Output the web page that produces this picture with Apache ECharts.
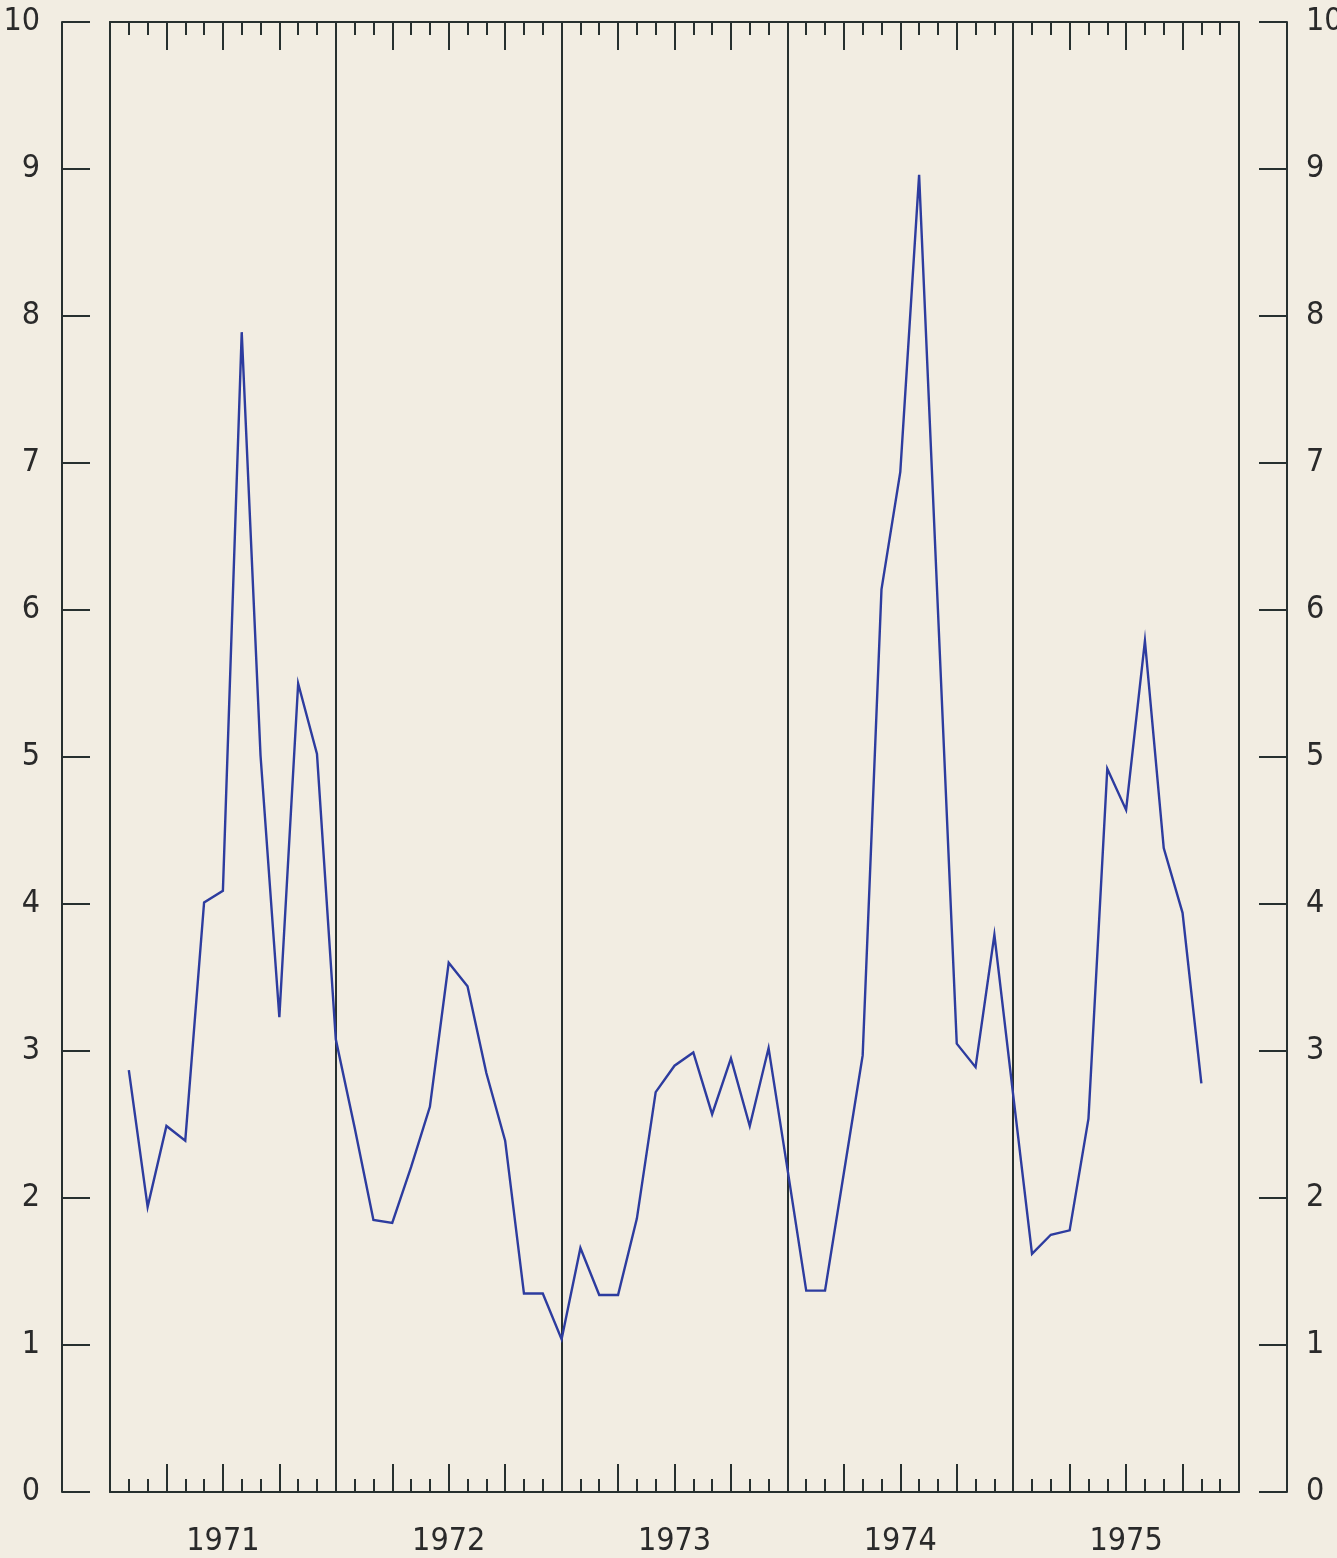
<!DOCTYPE html>
<html>
<head>
<meta charset="utf-8">
<script src="https://cdn.jsdelivr.net/npm/echarts@6/dist/echarts.min.js"></script>
<style>
  html, body { margin: 0; padding: 0; background: #f2ede2; }
  #chart { width: 1337px; height: 1558px; }
</style>
</head>
<body>
<div id="chart"></div>
<script>
// Year labels
const years = ['1971', '1972', '1973', '1974', '1975'];
// Monthly values (points plotted at end of each month)
const v1971 = [2.87, 1.94, 2.49, 2.39, 4.01, 4.09, 7.89, 5.01, 3.23, 5.50, 5.02, 3.08];
const v1972 = [2.48, 1.85, 1.83, 2.21, 2.62, 3.60, 3.44, 2.85, 2.39, 1.35, 1.35, 1.04];
const v1973 = [1.66, 1.34, 1.34, 1.86, 2.72, 2.90, 2.99, 2.57, 2.95, 2.49, 3.02, 2.20];
const v1974 = [1.37, 1.37, 2.17, 2.97, 6.14, 6.94, 8.96, 6.00, 3.05, 2.89, 3.79, 2.70];
const v1975 = [1.62, 1.75, 1.78, 2.54, 4.92, 4.64, 5.79, 4.38, 3.94, 2.78];
// Y tick labels
const yTicks = ['0','1','2','3','4','5','6','7','8','9','10'];

const allValues = [].concat(v1971, v1972, v1973, v1974, v1975);
const seriesData = allValues.map((v, i) => [i + 1, v]);

const axisColor = '#27302f';
const textColor = '#2a2a2a';
const fontFamily = "'DejaVu Sans Condensed', 'DejaVu Sans Mono', sans-serif";
const lineSt = { color: axisColor, width: 2 };

function xAx(pos, interval, extra) {
  return Object.assign({
    type: 'value', min: 0, max: 60, interval: interval, position: pos,
    axisLine: { show: false, onZero: false, lineStyle: lineSt },
    axisTick: { show: false },
    axisLabel: { show: false },
    splitLine: { show: false }
  }, extra);
}

const option = {
  backgroundColor: '#f2ede2',
  animation: false,
  grid: { left: 110, right: 98, top: 22, bottom: 66, containLabel: false, outerBoundsMode: 'none' },
  xAxis: [
    xAx('bottom', 1, { axisLine: { show: true, onZero: false, lineStyle: lineSt },
      axisTick: { show: true, inside: true, length: 13, lineStyle: lineSt } }),
    xAx('top', 1, { axisLine: { show: true, onZero: false, lineStyle: lineSt },
      axisTick: { show: true, inside: true, length: 13, lineStyle: lineSt } }),
    xAx('bottom', 3, { axisTick: { show: true, inside: true, length: 28, lineStyle: lineSt } }),
    xAx('top', 3, { axisTick: { show: true, inside: true, length: 28, lineStyle: lineSt } }),
    xAx('bottom', 12, { splitLine: { show: true, lineStyle: { color: axisColor, width: 2 } } }),
    xAx('bottom', 6, { axisLabel: { show: true, margin: 34, fontSize: 32, fontFamily: fontFamily, color: textColor,
      formatter: function (v) { return (v % 12 === 6) ? years[(v - 6) / 12] : ''; } } })
  ],
  yAxis: [
    { type: 'value', min: 0, max: 10, interval: 1, position: 'left',
      axisLine: { show: true, onZero: false, lineStyle: lineSt }, axisTick: { show: false },
      axisLabel: { show: false }, splitLine: { show: false } },
    { type: 'value', min: 0, max: 10, interval: 1, position: 'right',
      axisLine: { show: true, onZero: false, lineStyle: lineSt }, axisTick: { show: false },
      axisLabel: { show: false }, splitLine: { show: false } },
    { type: 'value', min: 0, max: 10, interval: 1, position: 'left', offset: 48,
      axisLine: { show: true, onZero: false, lineStyle: lineSt },
      axisTick: { show: true, inside: true, length: 28, lineStyle: lineSt },
      axisLabel: { show: true, margin: 22, fontSize: 32, fontFamily: fontFamily, color: textColor,
        formatter: function (v) { return yTicks[v]; } },
      splitLine: { show: false } },
    { type: 'value', min: 0, max: 10, interval: 1, position: 'right', offset: 48,
      axisLine: { show: true, onZero: false, lineStyle: lineSt },
      axisTick: { show: true, inside: true, length: 28, lineStyle: lineSt },
      axisLabel: { show: true, margin: 19, fontSize: 32, fontFamily: fontFamily, color: textColor,
        formatter: function (v) { return yTicks[v]; } },
      splitLine: { show: false } }
  ],
  series: [{
    type: 'line', xAxisIndex: 0, yAxisIndex: 0,
    data: seriesData, showSymbol: false, symbol: 'none',
    lineStyle: { color: '#2d3c9f', width: 2.4, join: 'miter' }
  }]
};

const chart = echarts.init(document.getElementById('chart'), null, { renderer: 'canvas' });
chart.setOption(option);
</script>
</body>
</html>
